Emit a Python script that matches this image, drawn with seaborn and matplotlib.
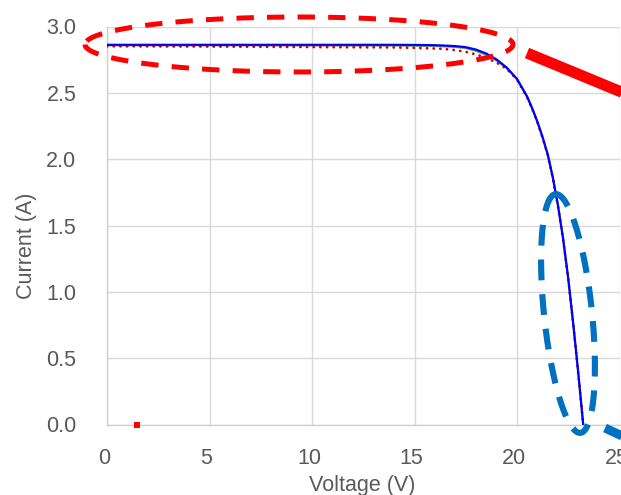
import numpy as np
import pandas as pd
import matplotlib
matplotlib.use("Agg")
import matplotlib.pyplot as plt
from matplotlib.transforms import ScaledTranslation
import seaborn as sns

# ---------------- data ----------------
voltage = [0, 5, 10, 14, 15, 16, 16.5, 17, 17.5, 18, 18.5, 19, 19.5, 20,
           20.5, 20.75, 21, 21.25, 21.5, 21.75, 22, 22.25, 22.5, 22.75, 23, 23.23]
current_measured = [2.862, 2.862, 2.862, 2.862, 2.861, 2.859, 2.856, 2.852, 2.844,
                    2.826, 2.796, 2.752, 2.69, 2.605, 2.47, 2.38, 2.28, 2.165,
                    2.035, 1.86, 1.65, 1.40, 1.10, 0.75, 0.37, 0.0]
current_fit = [2.851, 2.849, 2.845, 2.842, 2.839, 2.834, 2.830, 2.822, 2.809,
               2.789, 2.764, 2.728, 2.68, 2.60, 2.465, 2.375, 2.275, 2.16,
               2.03, 1.855, 1.645, 1.395, 1.095, 0.745, 0.365, 0.0]
current_alt = [2.857, 2.857, 2.856, 2.855, 2.854, 2.852, 2.849, 2.845, 2.836,
               2.815, 2.785, 2.742, 2.685, 2.603, 2.468, 2.378, 2.278, 2.163,
               2.033, 1.858, 1.648, 1.398, 1.098, 0.748, 0.368, 0.0]
stray_v = [1.46]
stray_i = [0.0]

x_ticks = [0, 5, 10, 15, 20, 25]
y_ticks = [0.0, 0.5, 1.0, 1.5, 2.0, 2.5, 3.0]

# ---------------- style ----------------
sns.set_theme(style="whitegrid")
plt.rcParams["font.family"] = ["Liberation Sans", "DejaVu Sans"]
plt.rcParams["lines.scale_dashes"] = False

W, H, DPI = 621, 495, 100
fig = plt.figure(figsize=(W / DPI, H / DPI), dpi=DPI)
ax_l, ax_r, ax_b, ax_t = 107, 619.5, 424.5, 26.5
ax = fig.add_axes([ax_l / W, (H - ax_b) / H, (ax_r - ax_l) / W, (ax_b - ax_t) / H])

df = pd.DataFrame({"V": voltage, "I_meas": current_measured,
                   "I_fit": current_fit, "I_alt": current_alt})

sns.lineplot(data=df, x="V", y="I_alt", ax=ax, color="#70AD47", lw=1.4,
             sort=False, zorder=3)
sns.lineplot(data=df, x="V", y="I_fit", ax=ax, color="#D00000", lw=2.0,
             sort=False, linestyle=(0, (0.1, 4.7)), dash_capstyle="round", zorder=4)
sns.lineplot(data=df, x="V", y="I_meas", ax=ax, color="#0000FF", lw=1.6,
             sort=False, zorder=5)
sns.scatterplot(x=stray_v, y=stray_i, ax=ax, color="#FF0000", marker="s", s=14,
                linewidth=0, zorder=6, clip_on=False)

ax.set_xlim(0, 25)
ax.set_ylim(0, 3)
ax.set_xticks(x_ticks)
ax.set_yticks(y_ticks)
ax.set_xticklabels([str(t) for t in x_ticks])
ax.set_yticklabels([f"{t:.1f}" for t in y_ticks])

txt = "#595959"
ax.tick_params(axis="both", length=0, labelsize=15.5, colors=txt)
ax.tick_params(axis="y", pad=22)
ax.tick_params(axis="x", pad=17)
shift = ScaledTranslation(-3 / DPI, 0, fig.dpi_scale_trans)
for lab in ax.get_xticklabels():
    lab.set_transform(lab.get_transform() + shift)
ax.grid(True, color="#D9D9D9", lw=1.0)
for s in ["top", "right"]:
    ax.spines[s].set_visible(False)
for s in ["left", "bottom"]:
    ax.spines[s].set_color("#D0D0D0")
    ax.spines[s].set_linewidth(1.0)

ax.set_xlabel("Voltage (V)", fontsize=15.5, color=txt)
ax.set_ylabel("Current (A)", fontsize=15.5, color=txt)
ax.xaxis.set_label_coords(0.497, -0.127)
ax.yaxis.set_label_coords(-0.137, 0.45)

# ---------------- annotations (pixel geometry -> data units) ----------------
sx = (ax_r - ax_l) / 25.0
sy = (ax_b - ax_t) / 3.0


def px(xp, yp):
    return (np.asarray(xp) - ax_l) / sx, (ax_b - np.asarray(yp)) / sy


def ellipse(cx, cy, a, b, ang_deg, start=0.0):
    t = np.linspace(0, 2 * np.pi, 400) + start
    ang = np.deg2rad(ang_deg)
    ex = a * np.cos(t)
    ey = b * np.sin(t)
    xr = ex * np.cos(ang) - ey * np.sin(ang)
    yr = ex * np.sin(ang) + ey * np.cos(ang)
    return px(cx + xr, cy - yr)


# red ellipse around plateau
exr, eyr = ellipse(299, 44.5, 214, 27.5, 0, start=np.pi)
ax.plot(exr, eyr, color="#FF0000", lw=3.6, linestyle=(0, (12.5, 9.5)),
        clip_on=False, zorder=7, dash_capstyle="butt")
# red thick leader
lx, ly = px([527, 660], [53, 108])
ax.plot(lx, ly, color="#FF0000", lw=8, clip_on=False, zorder=7,
        solid_capstyle="butt")

# blue ellipse around knee
exb, eyb = ellipse(568, 313.5, 24, 120, 5.95, start=np.pi / 2)
ax.plot(exb, eyb, color="#0070C0", lw=4.4, linestyle=(0, (15, 10)),
        clip_on=False, zorder=7, dash_capstyle="butt")
# blue thick leader
bx, by = px([605, 650], [428, 449])
ax.plot(bx, by, color="#0070C0", lw=6.5, clip_on=False, zorder=7,
        solid_capstyle="butt")

fig.savefig("out.png", dpi=DPI)
